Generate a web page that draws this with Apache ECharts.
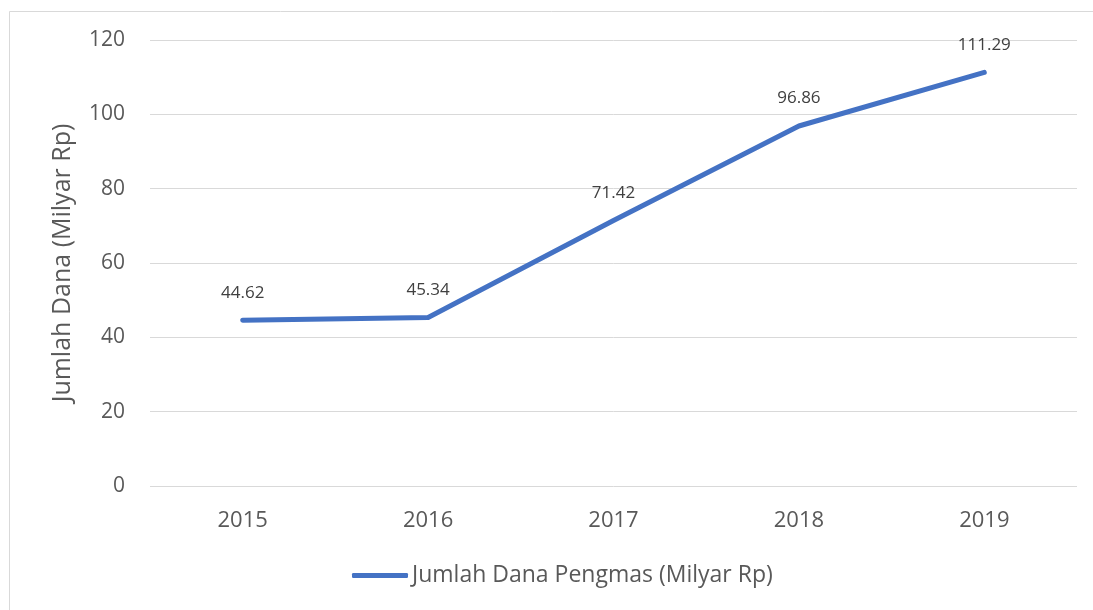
<!DOCTYPE html>
<html>
<head>
<meta charset="utf-8">
<script src="https://cdn.jsdelivr.net/npm/echarts@6/dist/echarts.min.js"></script>
<style>
  html, body { margin: 0; padding: 0; background: #fff; }
  #chart { width: 1093px; height: 610px; }
</style>
</head>
<body>
<div id="chart"></div>
<script>
// Community service funding per year (billion Rp)
const years = ['2015', '2016', '2017', '2018', '2019'];
const dana = [44.62, 45.34, 71.42, 96.86, 111.29];
const seriesName = 'Jumlah Dana Pengmas (Milyar Rp)';
const yAxisName = 'Jumlah Dana (Milyar Rp)';

const FONT = '"Open Sans", "Noto Sans", sans-serif';
const chart = echarts.init(document.getElementById('chart'), null, { renderer: 'canvas' });

chart.setOption({
  backgroundColor: '#ffffff',
  animation: false,
  textStyle: { fontFamily: FONT },
  graphic: [{
    type: 'rect',
    silent: true,
    shape: { x: 9.5, y: 11.5, width: 1200, height: 700 },
    style: { fill: 'none', stroke: '#d9d9d9', lineWidth: 1 }
  }],
  grid: { left: 150, right: 16, top: 40, bottom: 124 },
  legend: {
    bottom: 18,
    left: 347,
    itemWidth: 56,
    itemHeight: 5,
    itemGap: 4,
    textStyle: { fontFamily: FONT, fontSize: 23, color: '#595959', padding: [0, 0, 0, -1] },
    data: [{ name: seriesName, icon: 'roundRect' }]
  },
  xAxis: {
    type: 'category',
    data: years,
    boundaryGap: true,
    axisLine: { show: false },
    axisTick: { show: false },
    axisLabel: { fontFamily: FONT, fontSize: 22, color: '#595959', margin: 24 }
  },
  yAxis: {
    type: 'value',
    min: 0,
    max: 120,
    interval: 20,
    name: yAxisName,
    nameLocation: 'middle',
    nameGap: 75,
    nameTextStyle: { fontFamily: FONT, fontSize: 25, color: '#595959' },
    axisLine: { show: false },
    axisTick: { show: false },
    axisLabel: { fontFamily: FONT, fontSize: 21, color: '#595959', margin: 25 },
    splitLine: { lineStyle: { color: '#d9d9d9', width: 1 } }
  },
  series: [{
    name: seriesName,
    type: 'line',
    data: dana,
    showSymbol: true,
    symbol: 'circle',
    symbolSize: 2,
    lineStyle: { color: '#4472C4', width: 5, cap: 'round', join: 'round' },
    itemStyle: { color: '#4472C4' },
    label: {
      show: true,
      position: 'top',
      distance: 18,
      fontFamily: FONT,
      fontSize: 17,
      color: '#404040',
      formatter: p => p.value.toFixed(2)
    }
  }]
});
</script>
</body>
</html>
